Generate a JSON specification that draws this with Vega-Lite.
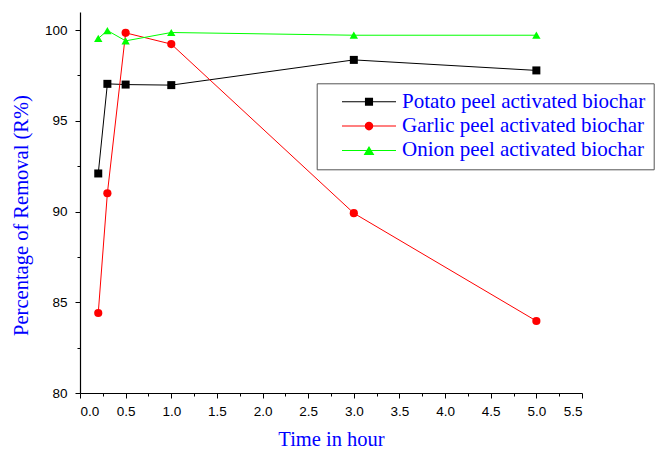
{
  "$schema": "https://vega.github.io/schema/vega-lite/v6.json",
  "width": 502,
  "height": 381,
  "autosize": {"type": "none"},
  "padding": {"left": 80, "top": 12, "right": 83, "bottom": 57},
  "background": "white",
  "config": {
    "view": {"stroke": null},
    "axis": {
      "grid": false,
      "domainColor": "black",
      "domainWidth": 1.2,
      "tickColor": "black",
      "tickWidth": 1,
      "labelColor": "black",
      "labelFont": "Liberation Sans",
      "labelFontSize": 13.5,
      "titleFont": "Liberation Serif",
      "titleFontSize": 20.5,
      "titleFontWeight": "normal",
      "titleColor": "#0000ff"
    }
  },
  "data": {
    "values": [
      {"series": "Potato peel activated biochar", "t": 0.2, "r": 92.1},
      {"series": "Potato peel activated biochar", "t": 0.3, "r": 97.04},
      {"series": "Potato peel activated biochar", "t": 0.5, "r": 97.0},
      {"series": "Potato peel activated biochar", "t": 1.0, "r": 96.97},
      {"series": "Potato peel activated biochar", "t": 3.0, "r": 98.36},
      {"series": "Potato peel activated biochar", "t": 5.0, "r": 97.78},
      {"series": "Garlic peel activated biochar", "t": 0.2, "r": 84.41},
      {"series": "Garlic peel activated biochar", "t": 0.3, "r": 91.01},
      {"series": "Garlic peel activated biochar", "t": 0.5, "r": 99.85},
      {"series": "Garlic peel activated biochar", "t": 1.0, "r": 99.23},
      {"series": "Garlic peel activated biochar", "t": 3.0, "r": 89.91},
      {"series": "Garlic peel activated biochar", "t": 5.0, "r": 83.97},
      {"series": "Onion peel activated biochar", "t": 0.2, "r": 99.54},
      {"series": "Onion peel activated biochar", "t": 0.3, "r": 99.98},
      {"series": "Onion peel activated biochar", "t": 0.5, "r": 99.41},
      {"series": "Onion peel activated biochar", "t": 1.0, "r": 99.87},
      {"series": "Onion peel activated biochar", "t": 3.0, "r": 99.72},
      {"series": "Onion peel activated biochar", "t": 5.0, "r": 99.72}
    ]
  },
  "layer": [
    {
      "mark": {"type": "line", "strokeWidth": 1},
      "encoding": {
        "x": {
          "field": "t", "type": "quantitative",
          "scale": {"domain": [0, 5.5], "nice": false, "zero": false},
          "axis": {
            "values": [0, 0.5, 1, 1.5, 2, 2.5, 3, 3.5, 4, 4.5, 5, 5.5],
            "format": ".1f",
            "tickSize": 5,
            "labelPadding": 6,
            "title": "Time in hour",
            "titlePadding": 12
          }
        },
        "y": {
          "field": "r", "type": "quantitative",
          "scale": {"domain": [80, 101], "nice": false, "zero": false},
          "axis": {
            "values": [80, 85, 90, 95, 100],
            "tickSize": 5,
            "labelPadding": 8,
            "title": "Percentage of Removal (R%)",
            "titlePadding": 13,
            "titleY": 203
          }
        },
        "color": {
          "field": "series", "type": "nominal",
          "scale": {
            "domain": ["Potato peel activated biochar", "Garlic peel activated biochar", "Onion peel activated biochar"],
            "range": ["#000000", "#ff0000", "#00ff00"]
          },
          "legend": null
        }
      }
    },
    {
      "mark": {"type": "point", "filled": true, "opacity": 1},
      "encoding": {
        "x": {"field": "t", "type": "quantitative", "axis": null},
        "y": {"field": "r", "type": "quantitative", "axis": null},
        "color": {
          "field": "series", "type": "nominal",
          "scale": {
            "domain": ["Potato peel activated biochar", "Garlic peel activated biochar", "Onion peel activated biochar"],
            "range": ["#000000", "#ff0000", "#00ff00"]
          },
          "legend": null
        },
        "shape": {
          "field": "series", "type": "nominal",
          "scale": {
            "domain": ["Potato peel activated biochar", "Garlic peel activated biochar", "Onion peel activated biochar"],
            "range": ["square", "circle", "triangle-up"]
          },
          "legend": null
        },
        "size": {
          "field": "series", "type": "nominal",
          "scale": {
            "domain": ["Potato peel activated biochar", "Garlic peel activated biochar", "Onion peel activated biochar"],
            "range": [64, 70, 110]
          },
          "legend": null
        }
      }
    },
    {
      "transform": [{"filter": "datum.t > 100"}],
      "mark": {"type": "point", "filled": true, "size": 81, "opacity": 1},
      "encoding": {
        "x": {
          "field": "t", "type": "quantitative",
          "axis": {
            "orient": "bottom",
            "values": [0.25, 0.75, 1.25, 1.75, 2.25, 2.75, 3.25, 3.75, 4.25, 4.75, 5.25],
            "labels": false, "domain": false, "tickSize": 3, "title": null
          }
        },
        "y": {
          "field": "r", "type": "quantitative",
          "axis": {
            "orient": "left",
            "values": [82.5, 87.5, 92.5, 97.5],
            "labels": false, "domain": false, "tickSize": 3, "title": null
          }
        },
        "color": {
          "field": "series", "type": "nominal",
          "scale": {
            "domain": ["Potato peel activated biochar", "Garlic peel activated biochar", "Onion peel activated biochar"],
            "range": ["#000000", "#ff0000", "#00ff00"]
          },
          "legend": {
            "orient": "none", "legendX": 236.7, "legendY": 71.3, "title": null,
            "padding": 8, "symbolOffset": 33.8, "labelOffset": 22.5, "symbolSize": 81,
            "labelFont": "Liberation Serif", "labelFontSize": 21, "labelColor": "#0000ff",
            "strokeColor": "#555555", "fillColor": "white", "rowPadding": 2.3, "labelLimit": 400,
            "symbolStrokeWidth": 0,
            "encode": {"symbols": {"update": {
              "fill": [{"test": "datum.value === 'Potato peel activated biochar'", "value": "#000000"}, {"test": "datum.value === 'Garlic peel activated biochar'", "value": "#ff0000"}, {"value": "#00ff00"}],
              "opacity": {"value": 1}
            }}}
          }
        },
        "shape": {
          "field": "series", "type": "nominal",
          "scale": {
            "domain": ["Potato peel activated biochar", "Garlic peel activated biochar", "Onion peel activated biochar"],
            "range": [
              "M-6,-0.11H6V0.11H-6ZM-0.9,-0.9H0.9V0.9H-0.9Z",
              "M-6,-0.11H6V0.11H-6ZM0.95,0C0.95,0.525,0.525,0.95,0,0.95C-0.525,0.95,-0.95,0.525,-0.95,0C-0.95,-0.525,-0.525,-0.95,0,-0.95C0.525,-0.95,0.95,-0.525,0.95,0Z",
              "M-6,-0.11H6V0.11H-6ZM0,-1.0L1.2,1.0L-1.2,1.0Z"
            ]
          },
          "legend": {
            "orient": "none", "legendX": 236.7, "legendY": 71.3, "title": null,
            "padding": 8, "symbolOffset": 33.8, "labelOffset": 22.5, "symbolSize": 81,
            "labelFont": "Liberation Serif", "labelFontSize": 21, "labelColor": "#0000ff",
            "strokeColor": "#555555", "fillColor": "white", "rowPadding": 2.3, "labelLimit": 400,
            "symbolStrokeWidth": 0,
            "encode": {"symbols": {"update": {
              "fill": [{"test": "datum.value === 'Potato peel activated biochar'", "value": "#000000"}, {"test": "datum.value === 'Garlic peel activated biochar'", "value": "#ff0000"}, {"value": "#00ff00"}],
              "opacity": {"value": 1}
            }}}
          }
        }
      }
    }
  ],
  "resolve": {
    "scale": {"color": "independent", "shape": "independent", "size": "independent"},
    "axis": {"x": "independent", "y": "independent"}
  }
}
